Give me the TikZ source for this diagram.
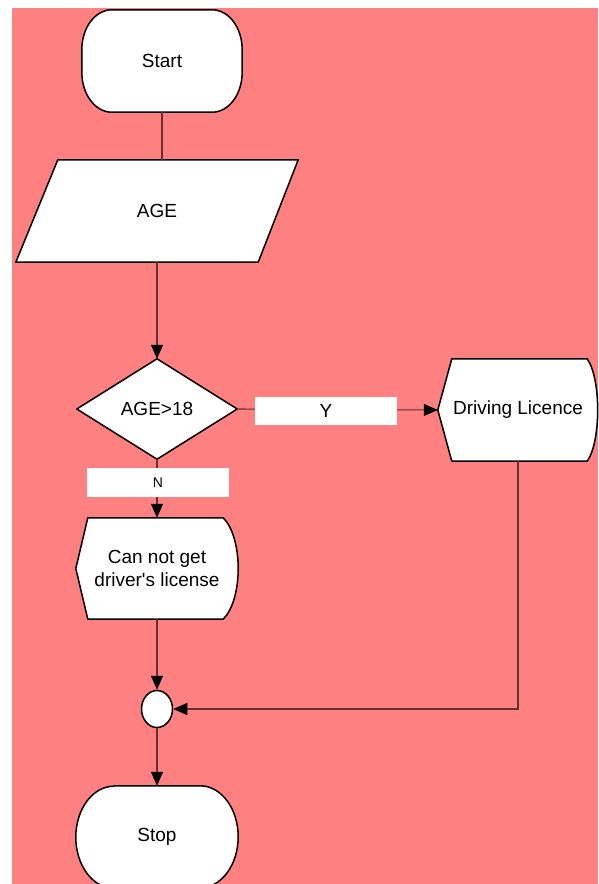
\documentclass[tikz,border=0pt]{standalone}
\usepackage{fontspec}
\setmainfont{Liberation Sans}
\usetikzlibrary{arrows.meta,shapes.geometric}
\definecolor{bgpink}{RGB}{255,128,128}
\definecolor{linkcol}{RGB}{100,48,48}
\pgfdeclarelayer{bg}
\pgfdeclarelayer{shapes}
\pgfsetlayers{bg,shapes,main}

\begin{document}
\begin{tikzpicture}[x=1pt,y=1pt,
  txt/.style={inner sep=0pt, align=center, font=\fontsize{19}{23}\selectfont},
  outline/.style={draw=black, line width=1.5pt, fill=white, line join=round},
  link/.style={draw=linkcol, line width=1.1pt},
  tip/.style={-{Triangle[length=14pt,width=12pt,color=black]}},
  lab/.style={fill=white, inner sep=0pt, minimum height=28pt, minimum width=142pt}
]
\useasboundingbox (0,0) rectangle (598,-884);
\begin{pgfonlayer}{bg}
  \fill[white] (0,0) rectangle (598,-884);
  \fill[bgpink] (12,-8) rectangle (598,-884);
\end{pgfonlayer}

% text nodes, each sized to its shape
\node[txt, minimum width=160pt, minimum height=102pt] (start) at (162,-61) {Start};
\node[txt, minimum width=282pt, minimum height=102pt] (age) at (157,-211) {AGE};
\node[txt, minimum width=160pt, minimum height=100pt] (dec) at (157,-409) {AGE>18};
\node[txt, minimum width=160pt, minimum height=102pt] (dl) at (518,-410) {Driving Licence};
\node[txt, minimum width=162pt, minimum height=101pt] (cng) at (157,-568.5) {Can not get\\driver\textquotesingle s license};
\node[ellipse, outline, minimum width=31pt, minimum height=37pt, inner sep=0pt] (merge) at (157,-709) {};
\node[txt, minimum width=162pt, minimum height=102pt] (stop) at (157,-837) {Stop};

% shape outlines
\begin{pgfonlayer}{shapes}
  % terminal: Start
  \path[outline] ([xshift=30pt]start.north west) -- ([xshift=-30pt]start.north east)
    arc[start angle=90, end angle=0, x radius=30pt, y radius=40pt]
    -- ([yshift=40pt]start.south east)
    arc[start angle=0, end angle=-90, x radius=30pt, y radius=40pt]
    -- ([xshift=30pt]start.south west)
    arc[start angle=270, end angle=180, x radius=30pt, y radius=40pt]
    -- ([yshift=-40pt]start.north west)
    arc[start angle=180, end angle=90, x radius=30pt, y radius=40pt] -- cycle;
  % input: AGE
  \path[outline] ([xshift=42pt]age.north west) -- (age.north east)
    -- ([xshift=-40pt]age.south east) -- (age.south west) -- cycle;
  % decision
  \path[outline] (dec.north) -- (dec.east) -- (dec.south) -- (dec.west) -- cycle;
  % display: Driving Licence
  \path[outline] (dl.west) -- ([xshift=14pt]dl.north west) -- ([xshift=-11pt]dl.north east)
    .. controls ([xshift=3pt,yshift=-20pt]dl.north east) and ([xshift=3pt,yshift=20pt]dl.south east)
    .. ([xshift=-11pt]dl.south east) -- ([xshift=14pt]dl.south west) -- cycle;
  % display: Can not get driver's license
  \path[outline] (cng.west) -- ([xshift=12pt]cng.north west) -- ([xshift=-15pt]cng.north east)
    .. controls ([xshift=5pt,yshift=-20pt]cng.north east) and ([xshift=5pt,yshift=20pt]cng.south east)
    .. ([xshift=-15pt]cng.south east) -- ([xshift=12pt]cng.south west) -- cycle;
  % terminal: Stop (half-ellipse sides)
  \path[outline] ([xshift=38pt]stop.north west) -- ([xshift=-38pt]stop.north east)
    arc[start angle=90, end angle=-90, x radius=38pt, y radius=51pt]
    -- ([xshift=38pt]stop.south west)
    arc[start angle=270, end angle=90, x radius=38pt, y radius=51pt] -- cycle;
\end{pgfonlayer}

% connectors
\draw[link] (start.south) -- (start.south |- age.north);
\draw[link, tip] (age.south) -- (dec.north);
\draw[link, tip] (dec.east) -- (dl.west);
\draw[link, tip] (dec.south) -- (cng.north);
\draw[link, tip] (cng.south) -- (merge.north);
\draw[link, tip] (dl.south) |- (merge.east);
\draw[link, tip] (merge.south) -- (stop.north);

% branch labels
\node[lab, font=\fontsize{19}{23}\selectfont] (ylab) at (326,-411) {Y};
\node[lab, minimum height=29pt, font=\fontsize{14}{17}\selectfont] (nlab) at (158,-482.5) {N};
\end{tikzpicture}
\end{document}
